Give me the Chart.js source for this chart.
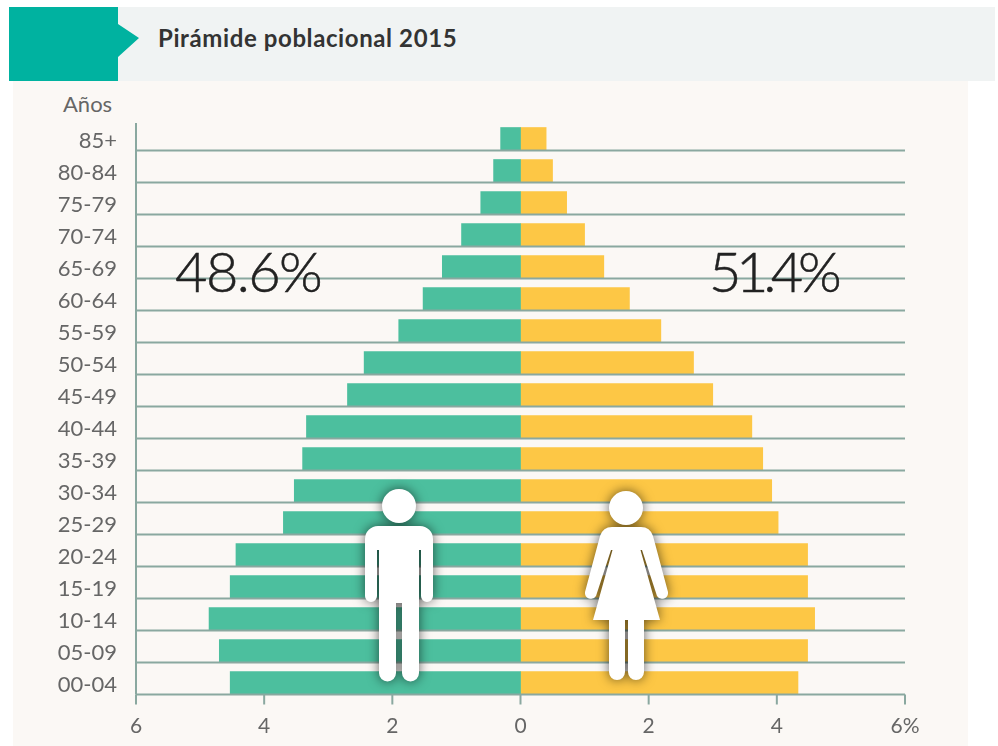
<!DOCTYPE html>
<html lang="es">
<head>
<meta charset="utf-8">
<title>Pirámide poblacional 2015</title>
<script src="https://cdn.jsdelivr.net/npm/chart.js@4"></script>
<style>
html, body { margin: 0; padding: 0; background: #fff; }
body { width: 998px; height: 746px; position: relative; overflow: hidden; font-family: Lato, sans-serif; }
#panel { position: absolute; left: 13px; top: 81px; width: 955px; height: 665px; background: #fbf8f5; }
#head { position: absolute; left: 118px; top: 7px; width: 877px; height: 74px; background: #f0f3f3; }
#flag { position: absolute; left: 9px; top: 7px; width: 130px; height: 74px; background: #00b2a0;
  clip-path: polygon(0 0, 109px 0, 109px 17px, 130px 31px, 109px 50px, 109px 74px, 0 74px); }
#title { position: absolute; left: 158px; top: 23px; font-size: 24px; font-weight: 700; color: #333; line-height: 30px; letter-spacing: .6px; }
#anos { position: absolute; left: 63px; top: 91px; font-size: 22px; color: #666; line-height: 26px; }
.pct { position: absolute; top: 237px; font-size: 56px; font-weight: 300; color: #222; line-height: 68px; -webkit-text-stroke: .5px #222; }
#chart { position: absolute; left: 0; top: 0; }
#people { position: absolute; left: 0; top: 0; filter: drop-shadow(0 0 6px rgba(0,0,0,.6)); }
</style>
</head>
<body>
<div id="panel"></div>
<div id="head"></div>
<div id="flag"></div>
<div id="title">Pirámide poblacional 2015</div>
<div id="anos">Años</div>
<canvas id="chart" width="998" height="746"></canvas>
<div class="pct" style="left:175px; letter-spacing:-1.6px">48.6%</div>
<div class="pct" style="left:709px; letter-spacing:-5.4px">51.4%</div>
<svg id="people" width="998" height="746" fill="#fff">
  <!-- hombre -->
  <circle cx="399" cy="506" r="17"/>
  <path d="M378 526H420A13 13 0 0 1 433 539V596A6 6 0 0 1 421 596V550H419V673A8.500 8.500 0 0 1 402 673V603H396V673A8.500 8.500 0 0 1 379 673V550H377V596A6 6 0 0 1 365 596V539A13 13 0 0 1 378 526Z"/>
  <!-- mujer -->
  <circle cx="626" cy="508" r="17"/>
  <path d="M612 527H641Q650 527 653 536L668 592A6 6 0 0 1 657 596L642 550H640.500L660 620H644V672A8 8 0 0 1 628 672V620H625V672A8 8 0 0 1 609 672V620H593L612.500 550H611L596 596A6 6 0 0 1 585 592L600 536Q603 527 612 527Z"/>
</svg>
<script>
// Pirámide poblacional 2015

var groups = ["85+", "80-84", "75-79", "70-74", "65-69", "60-64", "55-59", "50-54", "45-49",
    "40-44", "35-39", "30-34", "25-29", "20-24", "15-19", "10-14", "05-09", "00-04"];
var men = [0.31, 0.42, 0.62, 0.92, 1.22, 1.52, 1.9, 2.44, 2.7,
    3.34, 3.4, 3.53, 3.7, 4.44, 4.53, 4.86, 4.7, 4.53];
var women = [0.4, 0.5, 0.72, 1.0, 1.3, 1.7, 2.19, 2.7, 3.0,
    3.61, 3.78, 3.92, 4.02, 4.48, 4.48, 4.59, 4.48, 4.33];

var BAR = 23;

// row lines sit on the bottom edge of each bar, ticks hang below the last one
var rowLines = {
    id: "rowLines",
    afterDatasetsDraw: function (chart) {
        var ctx = chart.ctx, x = chart.scales.x, y = chart.scales.y;
        var lastY = 0;
        ctx.save();
        ctx.strokeStyle = "#8aa8a0";
        ctx.lineWidth = 2;
        groups.forEach(function (g, i) {
            lastY = y.getPixelForValue(i) + BAR / 2;
            ctx.beginPath();
            ctx.moveTo(x.left, lastY);
            ctx.lineTo(x.right, lastY);
            ctx.stroke();
        });
        x.ticks.forEach(function (t) {
            var px = x.getPixelForValue(t.value);
            ctx.beginPath();
            ctx.moveTo(px, lastY);
            ctx.lineTo(px, lastY + 10);
            ctx.stroke();
        });
        ctx.beginPath();
        ctx.moveTo(x.left, chart.chartArea.top);
        ctx.lineTo(x.left, lastY);
        ctx.stroke();
        ctx.restore();
    }
};

new Chart(document.getElementById("chart"), {
    type: "bar",
    plugins: [rowLines],
    data: {
        labels: groups,
        datasets: [
            { label: "Hombres", data: men.map(function (v) { return -v; }), backgroundColor: "#4cbf9e", barThickness: BAR },
            { label: "Mujeres", data: women, backgroundColor: "#fdc745", barThickness: BAR }
        ]
    },
    options: {
        indexAxis: "y",
        responsive: false,
        animation: false,
        layout: { padding: { top: 123, right: 93, left: 0, bottom: 0 } },
        plugins: { legend: { display: false }, tooltip: { enabled: false } },
        scales: {
            x: {
                stacked: true,
                min: -6,
                max: 6,
                grid: { display: false },
                border: { display: false },
                afterFit: function (s) { s.height = 47; },
                ticks: {
                    stepSize: 2,
                    padding: 7,
                    color: "#666",
                    font: { family: "Lato", size: 21 },
                    maxRotation: 0,
                    callback: function (v) { return v === 6 ? "6%" : String(Math.abs(v)); }
                }
            },
            y: {
                stacked: true,
                grid: { display: false },
                border: { display: false },
                afterFit: function (s) { s.width = 136; },
                ticks: {
                    padding: 11,
                    labelOffset: 2,
                    color: "#666",
                    autoSkip: false,
                    font: { family: "Lato", size: 22 }
                }
            }
        }
    }
});
</script>
</body>
</html>
